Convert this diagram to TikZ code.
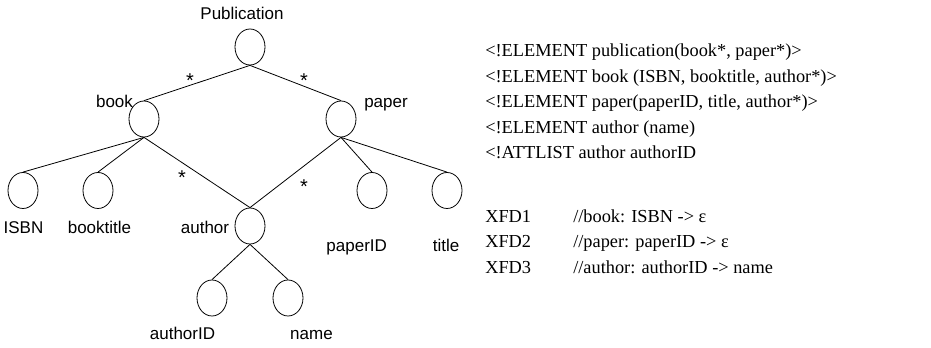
\documentclass[tikz,border=0pt]{standalone}
\usepackage{fontspec}
\usetikzlibrary{shapes.geometric}
\setmainfont{Liberation Serif}
\newfontfamily\labelfont{Liberation Sans}
\begin{document}
\begin{tikzpicture}[x=0.75pt,y=-0.75pt,
  elem/.style={draw,ellipse,minimum width=22.5pt,minimum height=27pt,inner sep=0pt,line width=0.6pt},
  lbl/.style={anchor=base,inner sep=0pt,font=\labelfont\fontsize{12.75pt}{14pt}\selectfont},
  card/.style={anchor=base,inner sep=0pt,font=\labelfont\fontsize{15pt}{16pt}\selectfont},
  dtd/.style={anchor=base west,inner sep=0pt,font=\fontsize{13.75pt}{17pt}\selectfont},
  edge/.style={line width=0.6pt}]
\useasboundingbox (0,0) rectangle (931,348);

% tree nodes
\node[elem] (pub) at (250,47) {};
\node[elem] (book) at (144,119) {};
\node[elem] (paper) at (341,119) {};
\node[elem] (isbn) at (23,190.5) {};
\node[elem] (btitle) at (98,190.5) {};
\node[elem] (author) at (250,226) {};
\node[elem] (pid) at (372,190.5) {};
\node[elem] (title) at (447,190.5) {};
\node[elem] (aid) at (212,298) {};
\node[elem] (name) at (288,298) {};

% edges
\draw[edge] (pub.south) -- (book.north);
\draw[edge] (pub.south) -- (paper.north);
\draw[edge] (book.south) -- (isbn.north);
\draw[edge] (book.south) -- (btitle.north);
\draw[edge] (book.south) -- (author.north);
\draw[edge] (paper.south) -- (author.north);
\draw[edge] (paper.south) -- (pid.north);
\draw[edge] (paper.south) -- (title.north);
\draw[edge] (author.south) -- (aid.north);
\draw[edge] (author.south) -- (name.north);

% element names
\node[lbl] (lpub) at (242,19.3) {Publication};
\node[lbl] (lbook) at (114.5,108) {book};
\node[lbl] (lpaper) at (386,108) {paper};
\node[lbl] (lisbn) at (23.5,233.3) {ISBN};
\node[lbl] (lbtitle) at (99.5,233.3) {booktitle};
\node[lbl] (lauthor) at (205,233.3) {author};
\node[lbl] (lpid) at (356.7,251.7) {paperID};
\node[lbl] (ltitle) at (446,251.7) {title};
\node[lbl] (laid) at (182.5,340) {authorID};
\node[lbl] (lname) at (311.5,340) {name};

% cardinalities
\node[card] (s1) at (190,88) {*};
\node[card] (s2) at (304,88) {*};
\node[card] (s3) at (182,185) {*};
\node[card] (s4) at (304,194) {*};

% DTD
\node[dtd] (d1) at (485,56.7) {<!ELEMENT publication(book*, paper*)>};
\node[dtd] (d2) at (485,82.2) {<!ELEMENT book (ISBN, booktitle, author*)>};
\node[dtd] (d3) at (485,107.7) {<!ELEMENT paper(paperID, title, author*)>};
\node[dtd] (d4) at (485,133.2) {<!ELEMENT author (name)};
\node[dtd] (d5) at (485,158.7) {<!ATTLIST author authorID};

% functional dependencies
\node[dtd] (f1) at (485,222.4) {XFD1};
\node[dtd] (f2) at (485,248) {XFD2};
\node[dtd] (f3) at (485,273.5) {XFD3};
\node[dtd] (g1) at (573,222.4) {//book: ISBN -> ε};
\node[dtd] (g2) at (573,248) {//paper: paperID -> ε};
\node[dtd] (g3) at (573,273.5) {//author: authorID -> name};
\end{tikzpicture}
\end{document}
